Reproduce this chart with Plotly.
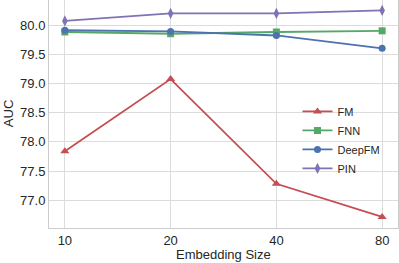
import plotly.graph_objects as go

sizes = ["10", "20", "40", "80"]
fm = [77.84, 79.08, 77.28, 76.71]
fnn = [79.89, 79.86, 79.89, 79.91]
deepfm = [79.92, 79.90, 79.83, 79.61]
pin = [80.08, 80.21, 80.21, 80.26]
yticks = [77.0, 77.5, 78.0, 78.5, 79.0, 79.5, 80.0]

series = [
    ("FM", fm, "#C44E52", "triangle-up", 8),
    ("FNN", fnn, "#55A868", "square", 7),
    ("DeepFM", deepfm, "#4C72B0", "circle", 7),
    ("PIN", pin, "#8172B2", "diamond-tall", 8),
]

fig = go.Figure()
for name, vals, color, sym, ms in series:
    fig.add_trace(go.Scatter(
        x=list(range(len(sizes))), y=vals, name=name, mode="lines+markers",
        line=dict(color=color, width=1.8),
        marker=dict(symbol=sym, size=ms, color=color),
        cliponaxis=False,
    ))

axis_common = dict(
    showgrid=True, gridcolor="#dcdcdc", gridwidth=1,
    showline=True, linecolor="#cccccc", linewidth=1, mirror=True,
    zeroline=False, ticks="", tickfont=dict(size=13, color="#262626"),
    automargin=False,
)

fig.update_layout(
    width=399, height=263,
    margin=dict(l=49, r=1, t=0, b=35),
    paper_bgcolor="white", plot_bgcolor="white",
    font=dict(family="Arial, Liberation Sans, sans-serif", color="#262626"),
    xaxis=dict(tickvals=list(range(len(sizes))), ticktext=sizes, range=[-0.15, 3.15],
               **axis_common),
    yaxis=dict(tickvals=yticks, ticktext=[f"{v:.1f}" for v in yticks], range=[76.52, 80.44],
               **axis_common),
    legend=dict(x=0.712, y=0.575, xanchor="left", yanchor="top", bgcolor="rgba(0,0,0,0)",
                font=dict(size=11, color="#262626"), itemwidth=30, tracegroupgap=0),
    showlegend=True,
    annotations=[
        dict(text="Embedding Size", xref="paper", yref="paper", x=0.5, y=-0.115,
             xanchor="center", yanchor="middle", showarrow=False, font=dict(size=13)),
        dict(text="AUC", xref="paper", yref="paper", x=-0.117, y=0.5, textangle=-90,
             xanchor="center", yanchor="middle", showarrow=False, font=dict(size=13)),
    ],
)

fig.write_html("out.html", config={"displayModeBar": False},
               post_script="document.body.style.margin='0px';")
